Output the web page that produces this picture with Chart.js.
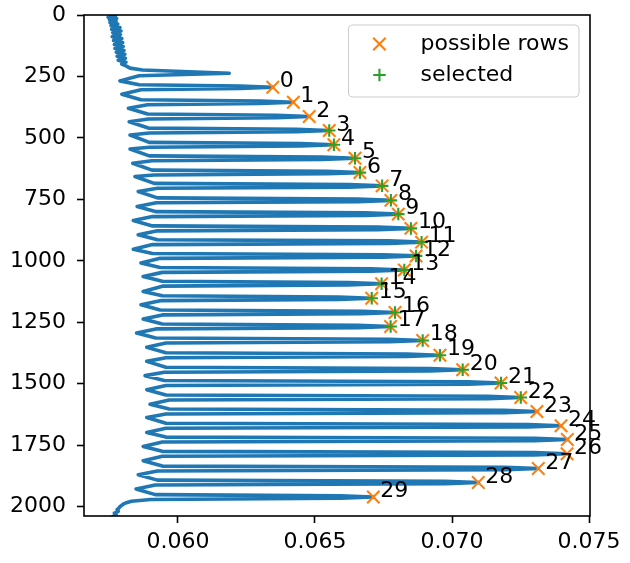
<!DOCTYPE html>
<html>
<head>
<meta charset="utf-8">
<script src="https://cdn.jsdelivr.net/npm/chart.js@4.4.0/dist/chart.umd.min.js"></script>
<style>
  html, body { margin: 0; padding: 0; background: #fff; }
  #wrap { width: 630px; height: 563px; }
</style>
</head>
<body>
<div id="wrap"><canvas id="rowChart" width="630" height="563"></canvas></div>
<script>
// row profile: image row (y) against mean value (x)
var profileRows = [
    0, 4, 9, 14, 19, 25, 31, 37, 44, 51, 58, 65, 72, 80, 88, 96,
    104, 112, 120, 128, 136, 144, 152, 160, 168, 176, 184, 192, 200, 208, 216, 224,
    237, 247,
    268, 284, 289, 294, 299, 304,
    322, 345, 350, 355, 360, 365,
    379, 403, 408, 413, 418, 423,
    434, 460, 465, 470, 475, 480,
    488, 518, 523, 528, 533, 538,
    545, 573, 578, 583, 588, 593,
    603, 631, 636, 641, 646, 651,
    657, 685, 690, 695, 700, 705,
    718, 744, 749, 754, 759, 764,
    779, 800, 805, 810, 815, 820,
    836, 858, 863, 868, 873, 878,
    894, 914, 919, 924, 929, 934,
    953, 970, 975, 980, 985, 990,
    1009, 1027, 1032, 1037, 1042, 1047,
    1064, 1083, 1088, 1093, 1098, 1103,
    1125, 1142, 1147, 1152, 1157, 1162,
    1179, 1200, 1205, 1210, 1215, 1220,
    1237, 1257, 1262, 1267, 1272, 1277,
    1294, 1314, 1319, 1324, 1329, 1334,
    1352, 1374, 1379, 1384, 1389, 1394,
    1409, 1433, 1438, 1443, 1448, 1453,
    1467, 1487, 1492, 1497, 1502, 1507,
    1524, 1546, 1551, 1556, 1561, 1566,
    1583, 1603, 1608, 1613, 1618, 1623,
    1637, 1661, 1666, 1671, 1676, 1681,
    1698, 1717, 1722, 1727, 1732, 1737,
    1755, 1775, 1780, 1785, 1790, 1795,
    1813, 1835, 1840, 1845, 1850, 1855,
    1870, 1892, 1897, 1902, 1907, 1912,
    1928, 1951, 1956, 1961, 1966, 1971,
    1978, 1984, 1990, 1998, 2005, 2012, 2019, 2026, 2033, 2040, 2048
];
var profileVals = [
    0.05748, 0.05772, 0.05745, 0.05776, 0.05750, 0.05774, 0.05752, 0.05780,
    0.05756, 0.05788, 0.05758, 0.05792, 0.05762, 0.05790, 0.05760, 0.05795,
    0.05765, 0.05798, 0.05768, 0.05800, 0.05770, 0.05803, 0.05775, 0.05806,
    0.05778, 0.05808, 0.05782, 0.05810, 0.05795, 0.05812, 0.05825, 0.05870,
    0.06187, 0.05858,
    0.05788, 0.05858, 0.06226, 0.06346, 0.06226, 0.05865,
    0.05795, 0.05865, 0.06301, 0.06421, 0.06301, 0.05889,
    0.05819, 0.05889, 0.06359, 0.06479, 0.06359, 0.05892,
    0.05822, 0.05892, 0.06432, 0.06552, 0.06432, 0.05895,
    0.05825, 0.05895, 0.06449, 0.06569, 0.06449, 0.05895,
    0.05825, 0.05895, 0.06526, 0.06646, 0.06526, 0.05905,
    0.05835, 0.05905, 0.06544, 0.06664, 0.06544, 0.05913,
    0.05843, 0.05913, 0.06625, 0.06745, 0.06625, 0.05925,
    0.05855, 0.05925, 0.06657, 0.06777, 0.06657, 0.05921,
    0.05851, 0.05921, 0.06684, 0.06804, 0.06684, 0.05907,
    0.05837, 0.05907, 0.06730, 0.06850, 0.06730, 0.05925,
    0.05855, 0.05925, 0.06769, 0.06889, 0.06769, 0.05907,
    0.05837, 0.05907, 0.06749, 0.06869, 0.06749, 0.05935,
    0.05865, 0.05935, 0.06706, 0.06826, 0.06706, 0.05943,
    0.05873, 0.05943, 0.06623, 0.06743, 0.06623, 0.05943,
    0.05873, 0.05943, 0.06587, 0.06707, 0.06587, 0.05935,
    0.05865, 0.05935, 0.06672, 0.06792, 0.06672, 0.05943,
    0.05873, 0.05943, 0.06656, 0.06776, 0.06656, 0.05919,
    0.05849, 0.05919, 0.06773, 0.06893, 0.06773, 0.05956,
    0.05886, 0.05956, 0.06836, 0.06956, 0.06836, 0.05956,
    0.05886, 0.05956, 0.06919, 0.07039, 0.06919, 0.05950,
    0.05880, 0.05950, 0.07059, 0.07179, 0.07059, 0.05956,
    0.05886, 0.05956, 0.07131, 0.07251, 0.07131, 0.05968,
    0.05898, 0.05968, 0.07190, 0.07310, 0.07190, 0.05956,
    0.05886, 0.05956, 0.07278, 0.07398, 0.07278, 0.05956,
    0.05886, 0.05956, 0.07301, 0.07421, 0.07301, 0.05943,
    0.05873, 0.05943, 0.07300, 0.07420, 0.07300, 0.05943,
    0.05873, 0.05943, 0.07195, 0.07315, 0.07195, 0.05925,
    0.05855, 0.05925, 0.06976, 0.07096, 0.06976, 0.05917,
    0.05847, 0.05917, 0.06593, 0.06713, 0.06593, 0.05900,
    0.05830, 0.05812, 0.05800, 0.05790, 0.05785, 0.05778, 0.05782, 0.05768, 0.05774, 0.05762, 0.05768
];

// candidate rows (peaks of the profile), numbered 0..29
var peakRows = [294, 355, 413, 470, 528, 583, 641, 695, 754, 810, 868, 924, 980, 1037, 1093,
    1152, 1210, 1267, 1324, 1384, 1443, 1497, 1556, 1613, 1671, 1727, 1785, 1845, 1902, 1961];
var peakVals = [0.06346, 0.06421, 0.06479, 0.06552, 0.06569, 0.06646, 0.06664, 0.06745, 0.06777, 0.06804,
    0.06850, 0.06889, 0.06869, 0.06826, 0.06743, 0.06707, 0.06792, 0.06776, 0.06893, 0.06956,
    0.07039, 0.07179, 0.07251, 0.07310, 0.07398, 0.07421, 0.07420, 0.07315, 0.07096, 0.06713];
var selectedIdx = [3, 4, 5, 6, 7, 8, 9, 10, 11, 12, 13, 14, 15, 16, 17, 18, 19, 20, 21, 22];

var xTicks = [0.060, 0.065, 0.070, 0.075];
var yTicks = [0, 250, 500, 750, 1000, 1250, 1500, 1750, 2000];

var blue = '#1f77b4', orange = '#ff7f0e', green = '#2ca02c';
var fontFam = "'DejaVu Sans', sans-serif";

Chart.defaults.font.family = fontFam;
Chart.defaults.font.size = 22;
Chart.defaults.color = '#000';

var profile = profileVals.map(function (v, i) { return { x: v, y: profileRows[i] }; });
var possible = peakVals.map(function (v, i) { return { x: v, y: peakRows[i] }; });
var selected = selectedIdx.map(function (i) { return { x: peakVals[i], y: peakRows[i] }; });

// frame, peak numbers and legend box
var extras = {
    id: 'extras',
    afterDatasetsDraw: function (chart) {
        var ctx = chart.ctx, xs = chart.scales.x, ys = chart.scales.y;
        ctx.save();
        ctx.fillStyle = '#000';
        ctx.font = '22px ' + fontFam;
        ctx.textAlign = 'left';
        ctx.textBaseline = 'alphabetic';
        for (var i = 0; i < peakRows.length; i++) {
            ctx.fillText(String(i), xs.getPixelForValue(peakVals[i]) + 7, ys.getPixelForValue(peakRows[i]));
        }
        ctx.restore();
    },
    afterDraw: function (chart) {
        var ctx = chart.ctx, a = chart.chartArea;
        ctx.save();
        ctx.strokeStyle = '#000';
        ctx.lineWidth = 1.6;
        ctx.strokeRect(a.left, a.top, a.right - a.left, a.bottom - a.top);

        // legend
        ctx.font = '22px ' + fontFam;
        var labels = [chart.data.datasets[1].label, chart.data.datasets[2].label];
        var tw = Math.max(ctx.measureText(labels[0]).width, ctx.measureText(labels[1]).width);
        var w = tw + 82, h = 72;
        var bx = a.right - 11 - w, by = a.top + 10;
        ctx.beginPath();
        ctx.roundRect(bx, by, w, h, 4);
        ctx.fillStyle = 'rgba(255,255,255,0.8)';
        ctx.fill();
        ctx.strokeStyle = '#cccccc';
        ctx.lineWidth = 1;
        ctx.stroke();

        var mx = bx + 31, r = 6.25;
        ctx.lineWidth = 2.1;
        ctx.strokeStyle = orange;
        ctx.beginPath();
        ctx.moveTo(mx - r, by + 19 - r); ctx.lineTo(mx + r, by + 19 + r);
        ctx.moveTo(mx + r, by + 19 - r); ctx.lineTo(mx - r, by + 19 + r);
        ctx.stroke();
        ctx.strokeStyle = green;
        ctx.beginPath();
        ctx.moveTo(mx - r, by + 50); ctx.lineTo(mx + r, by + 50);
        ctx.moveTo(mx, by + 50 - r); ctx.lineTo(mx, by + 50 + r);
        ctx.stroke();

        ctx.fillStyle = '#000';
        ctx.textAlign = 'left';
        ctx.textBaseline = 'middle';
        ctx.fillText(labels[0], bx + 72, by + 19);
        ctx.fillText(labels[1], bx + 72, by + 50);
        ctx.restore();
    }
};

var ctx = document.getElementById('rowChart').getContext('2d');
var rowChart = new Chart(ctx, {
    type: 'scatter',
    data: {
        datasets: [{
            type: 'line',
            label: 'profile',
            data: profile,
            borderColor: blue,
            backgroundColor: blue,
            borderWidth: 3.6,
            borderJoinStyle: 'round',
            pointRadius: 0,
            tension: 0,
            fill: false,
            order: 3
        }, {
            label: 'possible rows',
            data: possible,
            pointStyle: 'crossRot',
            pointRadius: 8.8,
            borderColor: orange,
            backgroundColor: orange,
            borderWidth: 2.1,
            order: 2
        }, {
            label: 'selected',
            data: selected,
            pointStyle: 'cross',
            pointRadius: 6.25,
            borderColor: green,
            backgroundColor: green,
            borderWidth: 2.1,
            order: 1
        }]
    },
    options: {
        responsive: false,
        animation: false,
        events: [],
        layout: { padding: { left: 0, right: 40, top: 15, bottom: 0 } },
        plugins: { legend: { display: false }, tooltip: { enabled: false } },
        scales: {
            x: {
                type: 'linear',
                min: 0.05657,
                max: 0.075036,
                afterBuildTicks: function (s) { s.ticks = xTicks.map(function (v) { return { value: v }; }); },
                afterFit: function (s) { s.height = 47; s.paddingLeft = 0; s.paddingRight = 0; },
                border: { display: false },
                grid: { drawOnChartArea: false, tickLength: 7, tickWidth: 1.6, tickColor: '#000' },
                ticks: { padding: 6, maxRotation: 0, callback: function (v) { return Number(v).toFixed(3); } }
            },
            y: {
                type: 'linear',
                reverse: true,
                min: 0,
                max: 2038,
                afterBuildTicks: function (s) { s.ticks = yTicks.map(function (v) { return { value: v }; }); },
                afterFit: function (s) { s.width = 84; s.paddingTop = 0; s.paddingBottom = 0; },
                border: { display: false },
                grid: { drawOnChartArea: false, tickLength: 7, tickWidth: 1.6, tickColor: '#000' },
                ticks: { padding: 11, callback: function (v) { return String(v); } }
            }
        }
    },
    plugins: [extras]
});
</script>
</body>
</html>
